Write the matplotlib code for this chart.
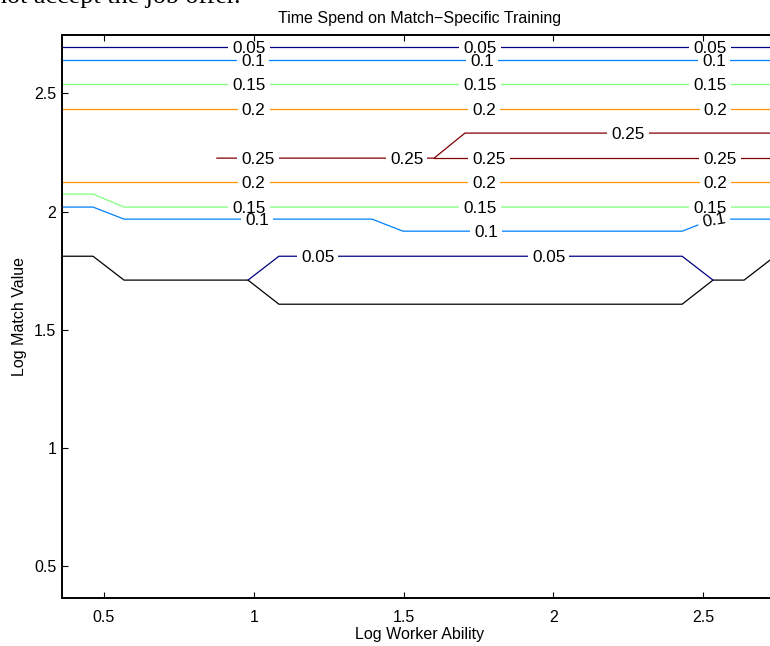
import matplotlib
matplotlib.use("Agg")
import matplotlib.pyplot as plt
import numpy as np

plt.rcParams['font.family'] = ['Liberation Sans', 'DejaVu Sans']

# contour levels of the training time
levels = [0.05, 0.1, 0.15, 0.2, 0.25]

# contour paths (log worker ability, log match value)
lvl_005_a_x = [0.36, 2.75]
lvl_005_a_y = [2.696, 2.696]
lvl_005_b_x = [0.981, 1.084, 2.430, 2.533]
lvl_005_b_y = [1.710, 1.811, 1.811, 1.710]
lvl_010_a_x = [0.36, 2.75]
lvl_010_a_y = [2.641, 2.641]
lvl_010_b_x = [0.36, 0.4635, 0.567, 1.395, 1.498, 2.430, 2.533, 2.75]
lvl_010_b_y = [2.019, 2.019, 1.968, 1.968, 1.917, 1.917, 1.968, 1.968]
lvl_015_a_x = [0.36, 2.75]
lvl_015_a_y = [2.539, 2.539]
lvl_015_b_x = [0.36, 0.4635, 0.567, 2.75]
lvl_015_b_y = [2.074, 2.074, 2.019, 2.019]
lvl_020_a_x = [0.36, 2.75]
lvl_020_a_y = [2.434, 2.434]
lvl_020_b_x = [0.36, 2.75]
lvl_020_b_y = [2.125, 2.125]
lvl_025_a_x = [0.877, 1.602, 1.705, 2.75]
lvl_025_a_y = [2.226, 2.226, 2.332, 2.332]
lvl_025_b_x = [1.602, 2.75]
lvl_025_b_y = [2.226, 2.226]
# zero-training boundary (black)
zero_x = [0.36, 0.4635, 0.567, 0.981, 1.084, 2.430, 2.533, 2.637, 2.740, 2.75]
zero_y = [1.811, 1.811, 1.710, 1.710, 1.608, 1.608, 1.710, 1.710, 1.811, 1.811]

# where the inline labels sit along each path
lab_005_a = [0.984, 1.755, 2.523]
lab_005_b = [1.214, 1.985]
lab_010_a = [0.997, 1.762, 2.537]
lab_010_b = [1.011, 1.775, 2.537]
lab_015_a = [0.984, 1.755, 2.523]
lab_015_b = [0.984, 1.755, 2.523]
lab_020_a = [1.0, 1.768, 2.541]
lab_020_b = [1.0, 1.768, 2.541]
lab_025_a = [1.014, 1.511, 2.249]
lab_025_b = [1.785, 2.556]

tick_vals = [0.5, 1, 1.5, 2, 2.5]
tick_text = ["0.5", "1", "1.5", "2", "2.5"]

cols = plt.cm.jet(np.linspace(0, 1, len(levels)))

paths = [
    (0, lvl_005_a_x, lvl_005_a_y, lab_005_a),
    (0, lvl_005_b_x, lvl_005_b_y, lab_005_b),
    (1, lvl_010_a_x, lvl_010_a_y, lab_010_a),
    (1, lvl_010_b_x, lvl_010_b_y, lab_010_b),
    (2, lvl_015_a_x, lvl_015_a_y, lab_015_a),
    (2, lvl_015_b_x, lvl_015_b_y, lab_015_b),
    (3, lvl_020_a_x, lvl_020_a_y, lab_020_a),
    (3, lvl_020_b_x, lvl_020_b_y, lab_020_b),
    (4, lvl_025_a_x, lvl_025_a_y, lab_025_a),
    (4, lvl_025_b_x, lvl_025_b_y, lab_025_b),
]

fig = plt.figure(figsize=(7.7, 6.46), dpi=100)
ax = fig.add_axes([62/770, 1-598/646, 716/770, 563/646])
ax.set_xlim(0.36, 2.75)
ax.set_ylim(0.365, 2.747)

ax.plot(zero_x, zero_y, color='k', lw=0.9, zorder=2)
for i, xs, ys, _ in paths:
    ax.plot(xs, ys, color=cols[i], lw=0.9, zorder=2)

renderer = fig.canvas.get_renderer()
ppu = ax.transData.transform((1, 0))[0] - ax.transData.transform((0, 0))[0]
for i, xs, ys, labs in paths:
    txt = "%g" % levels[i]
    for xc in labs:
        yc = np.interp(xc, xs, ys)
        t = ax.text(xc, yc, txt, ha='center', va='center_baseline', fontsize=12.3,
                    rotation_mode='anchor', zorder=4)
        w = t.get_window_extent(renderer).width
        dx = (w / 2 + 4) / ppu
        x0, x1 = xc - dx, xc + dx
        inner = [x for x in xs if x0 < x < x1]
        mx = np.array([x0] + inner + [x1])
        my = np.interp(mx, xs, ys)
        ax.plot(mx, my, color='white', lw=3, solid_capstyle='butt', zorder=3)
        p0 = ax.transData.transform((x0, my[0]))
        p1 = ax.transData.transform((x1, my[-1]))
        ang = np.degrees(np.arctan2(p1[1] - p0[1], p1[0] - p0[0]))
        t.set_rotation(ang)

ax.set_xticks(tick_vals)
ax.set_xticklabels(tick_text)
ax.set_yticks(tick_vals)
ax.set_yticklabels(tick_text)
ax.tick_params(direction='in', length=4, width=0.8, top=True, right=True,
               labelsize=11.5)
ax.tick_params(axis='x', pad=9)
ax.tick_params(axis='y', pad=4)
for s in ax.spines.values():
    s.set_linewidth(1.4)

ax.set_title("Time Spend on Match\u2212Specific Training", fontsize=11.5, pad=9)
ax.set_xlabel("Log Worker Ability", fontsize=11.5)
ax.xaxis.set_label_coords(0.5, -0.064)
ax.xaxis.label.set_va('center')
ax.set_ylabel("Log Match Value", fontsize=11.5)
ax.yaxis.set_label_coords(-0.06, 0.5)
ax.yaxis.label.set_va('center')

# tail of the surrounding document text
fig.text(-0.008, 1 - 2.5/646, "not accept the job offer.", family='Liberation Serif',
         fontsize=18.8, va='baseline')

fig.savefig("out.png", dpi=100)
